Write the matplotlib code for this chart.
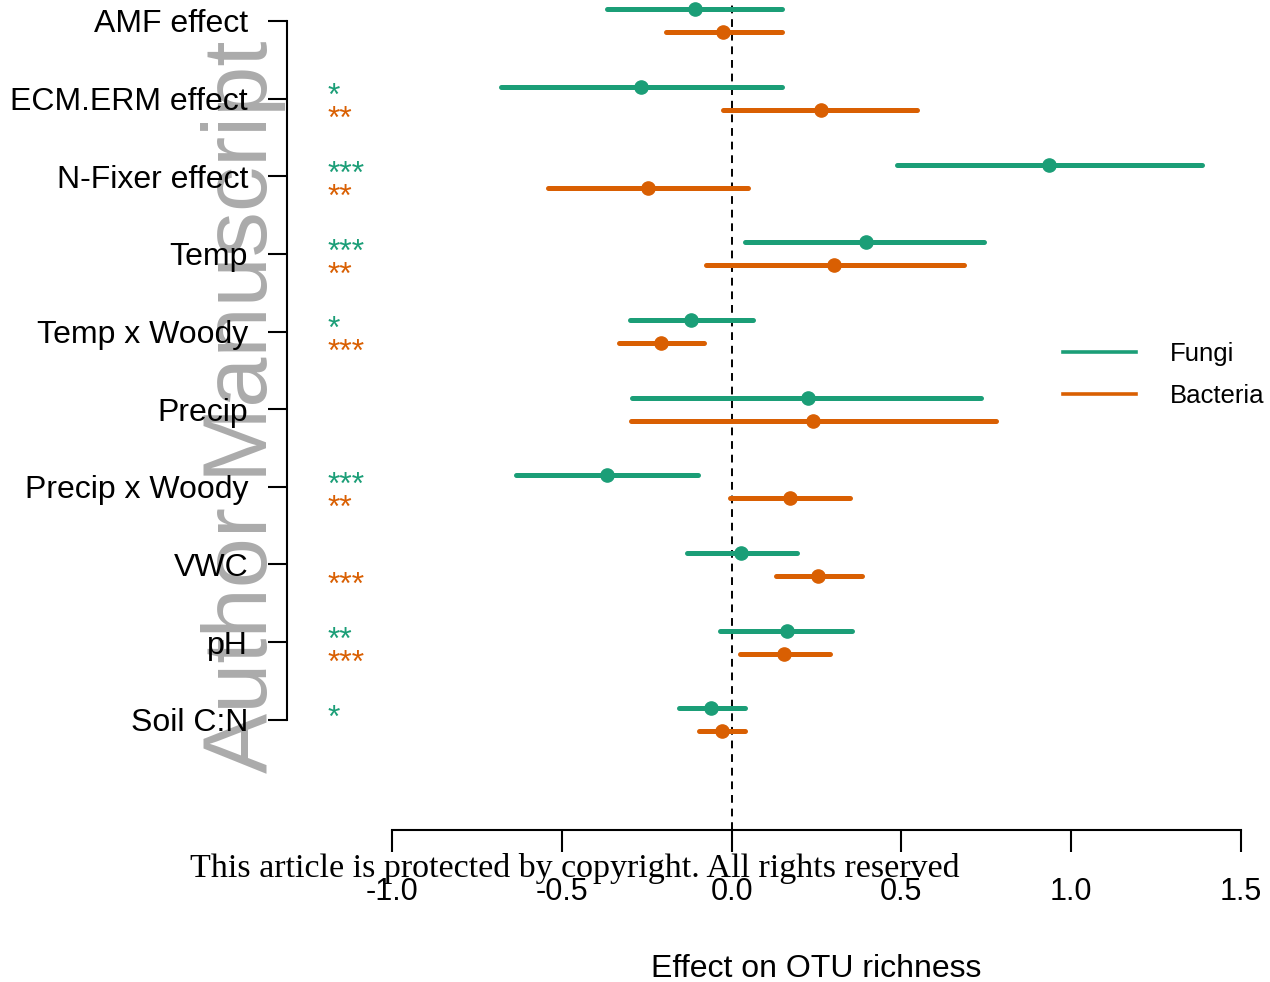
import matplotlib
matplotlib.use("Agg")
import matplotlib.pyplot as plt
import numpy as np

# predictors, top to bottom
categories = ["AMF effect", "ECM.ERM effect", "N-Fixer effect", "Temp", "Temp x Woody",
              "Precip", "Precip x Woody", "VWC", "pH", "Soil C:N"]

# standardized effects on OTU richness with interval bounds
fungi_est = [-0.109, -0.268, 0.934, 0.395, -0.121, 0.224, -0.368, 0.027, 0.162, -0.062]
fungi_lo = [-0.368, -0.680, 0.486, 0.038, -0.300, -0.292, -0.636, -0.130, -0.035, -0.156]
fungi_hi = [0.147, 0.147, 1.384, 0.742, 0.062, 0.733, -0.100, 0.194, 0.356, 0.038]

bact_est = [-0.026, 0.262, -0.247, 0.303, -0.209, 0.239, 0.171, 0.253, 0.153, -0.029]
bact_lo = [-0.194, -0.024, -0.542, -0.074, -0.333, -0.297, -0.005, 0.130, 0.024, -0.097]
bact_hi = [0.147, 0.545, 0.047, 0.683, -0.082, 0.780, 0.348, 0.383, 0.289, 0.038]

fungi_sig = ["", "*", "***", "***", "*", "", "***", "", "**", "*"]
bact_sig = ["", "**", "**", "**", "***", "", "**", "***", "***", ""]

xticks = [-1.0, -0.5, 0.0, 0.5, 1.0, 1.5]

FUNGI = "#1B9E77"
BACT = "#D95F02"

plt.rcParams["font.family"] = ["Liberation Sans", "DejaVu Sans"]

W, H = 1270, 982
fig = plt.figure(figsize=(W / 100, H / 100), dpi=100)
ax = fig.add_axes([287 / W, 1 - 830 / H, (W - 287) / W, 830 / H])
ax.patch.set_visible(False)

ypos = np.arange(len(categories))
off = 0.148

for y, lo, hi, est in zip(ypos - off, fungi_lo, fungi_hi, fungi_est):
    ax.plot([lo, hi], [y, y], color=FUNGI, lw=3.6, solid_capstyle="round", zorder=3)
    ax.plot(est, y, "o", color=FUNGI, ms=9.5, zorder=4)
for y, lo, hi, est in zip(ypos + off, bact_lo, bact_hi, bact_est):
    ax.plot([lo, hi], [y, y], color=BACT, lw=3.6, solid_capstyle="round", zorder=3)
    ax.plot(est, y, "o", color=BACT, ms=9.5, zorder=4)

# legend handles
ax.plot([], [], color=FUNGI, lw=2.6, label="Fungi")
ax.plot([], [], color=BACT, lw=2.6, label="Bacteria")

ax.axvline(0, color="black", lw=1.4, ls=(0, (4, 3)), zorder=2)

# significance stars
xstar = -1.19
for y, s in zip(ypos - off, fungi_sig):
    ax.text(xstar, y + 0.235, s, color=FUNGI, fontsize=23, ha="left", va="baseline",
            clip_on=False)
for y, s in zip(ypos + off, bact_sig):
    ax.text(xstar, y + 0.235, s, color=BACT, fontsize=23, ha="left", va="baseline",
            clip_on=False)

ax.set_xlim(-1 - 105 / 339.6, 1.5 + 29 / 339.6)
ax.set_ylim(10.42, -0.27)

for side in ("top", "right"):
    ax.spines[side].set_visible(False)
ax.spines["left"].set_bounds(0, len(categories) - 1)
ax.spines["bottom"].set_bounds(-1.0, 1.5)
ax.spines["left"].set_linewidth(1.5)
ax.spines["bottom"].set_linewidth(1.5)

ax.set_yticks(ypos)
ax.set_yticklabels(categories, fontsize=23)
ax.set_xticks(xticks)
ax.set_xticklabels([f"{t:.1f}" for t in xticks], fontsize=22)
ax.tick_params(axis="y", length=14, width=1.5, pad=14)
ax.tick_params(axis="x", length=16, width=1.5, pad=18)

ax.text((-1.0 + 1.5) / 2, -0.167, "Effect on OTU richness", fontsize=23,
        ha="center", va="center", transform=ax.get_xaxis_transform(), clip_on=False)

leg = ax.legend(loc="upper left", bbox_to_anchor=(1040 / W, 1 - 319 / H),
                bbox_transform=fig.transFigure, frameon=False, fontsize=18.5,
                handlelength=2.85, handletextpad=1.3, labelspacing=0.7)

# watermark (behind the labels) and copyright line
fig.text(243 / W, 1 - 407 / H, "Author Manuscript", rotation=90, fontsize=65,
         color="#ABABAB", ha="center", va="center", zorder=-1)
fig.text(190 / W, 1 - 869 / H, "This article is protected by copyright. All rights reserved",
         family="Liberation Serif", fontsize=24.5, ha="left", va="center", zorder=10)

fig.savefig("out.png", dpi=100)
